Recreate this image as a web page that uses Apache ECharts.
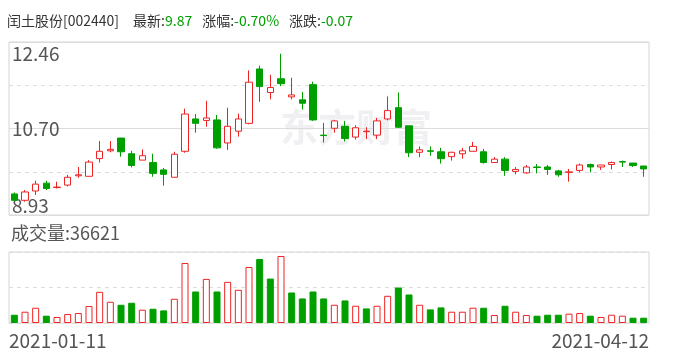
<!DOCTYPE html>
<html><head><meta charset="utf-8">
<script src="https://cdn.jsdelivr.net/npm/echarts@6/dist/echarts.min.js"></script>
<style>html,body{margin:0;padding:0;background:#fff}#c{width:688px;height:360px}</style>
</head><body><div id="c"></div>
<script>
const dates = [
 '2021-01-11','2021-01-12','2021-01-13','2021-01-14','2021-01-15',
 '2021-01-18','2021-01-19','2021-01-20','2021-01-21','2021-01-22',
 '2021-01-25','2021-01-26','2021-01-27','2021-01-28','2021-01-29',
 '2021-02-01','2021-02-02','2021-02-03','2021-02-04','2021-02-05',
 '2021-02-08','2021-02-09','2021-02-10','2021-02-18','2021-02-19',
 '2021-02-22','2021-02-23','2021-02-24','2021-02-25','2021-02-26',
 '2021-03-01','2021-03-02','2021-03-03','2021-03-04','2021-03-05',
 '2021-03-08','2021-03-09','2021-03-10','2021-03-11','2021-03-12',
 '2021-03-15','2021-03-16','2021-03-17','2021-03-18','2021-03-19',
 '2021-03-22','2021-03-23','2021-03-24','2021-03-25','2021-03-26',
 '2021-03-29','2021-03-30','2021-03-31','2021-04-01','2021-04-02',
 '2021-04-06','2021-04-07','2021-04-08','2021-04-09','2021-04-12'
];
const openP = [9.36,9.23,9.42,9.58,9.49,9.54,9.73,9.72,10.08,10.24,
 10.50,10.18,10.05,10.00,9.85,9.70,10.23,10.89,10.86,10.87,
 10.40,10.64,10.80,11.91,11.43,11.71,11.34,11.28,11.59,10.56,
 10.70,10.74,10.52,10.63,10.56,10.89,11.12,10.75,10.21,10.24,
 10.22,10.12,10.18,10.23,10.22,10.00,10.07,9.82,9.79,9.91,
 9.91,9.83,9.80,9.84,9.96,9.91,9.96,10.02,9.99,9.93];
const closeP = [9.23,9.40,9.56,9.47,9.50,9.70,9.75,10.01,10.23,10.27,
 10.22,9.94,10.14,9.78,9.76,10.17,10.99,10.80,10.91,10.30,
 10.74,10.89,11.64,11.55,11.53,11.61,11.38,11.21,10.87,10.55,
 10.85,10.49,10.71,10.64,10.85,11.06,10.72,10.20,10.26,10.23,
 10.08,10.21,10.24,10.33,10.00,10.07,9.84,9.86,9.91,9.90,
 9.86,9.75,9.81,9.95,9.91,9.95,10.00,10.01,9.94,9.87];
const lowP = [9.23,9.20,9.34,9.44,9.47,9.51,9.69,9.72,10.00,10.21,
 10.12,9.90,10.05,9.71,9.53,9.70,10.20,10.61,10.73,10.28,
 10.26,10.53,10.78,11.24,11.29,11.56,11.29,11.08,10.85,10.41,
 10.61,10.43,10.47,10.48,10.48,10.86,10.71,10.11,10.11,10.14,
 9.98,10.04,10.08,10.23,9.98,10.00,9.73,9.76,9.77,9.78,
 9.75,9.71,9.61,9.80,9.80,9.85,9.86,9.91,9.91,9.71];
const highP = [9.39,9.44,9.63,9.63,9.61,9.75,9.91,10.05,10.44,10.44,
 10.50,10.24,10.27,10.18,9.89,10.22,11.10,10.99,11.26,10.97,
 11.12,11.00,11.88,11.98,11.79,12.22,11.73,11.44,11.65,10.81,
 10.87,10.85,10.76,10.72,10.91,11.35,11.43,10.75,10.33,10.33,
 10.30,10.22,10.30,10.42,10.28,10.11,10.11,9.91,9.95,9.97,
 9.95,9.85,9.87,9.98,9.98,9.95,10.02,10.04,9.99,9.93];
const volume = [57000,77800,105300,50400,41200,61800,68700,116700,215200,146500,
 125900,139600,91600,98400,87000,167100,414300,217500,304400,217500,
 283800,228900,386800,441800,306700,462400,210600,169400,217500,169400,
 125900,155700,119000,100700,119000,187700,244900,196900,125900,93900,
 107600,77800,77800,105300,105300,54900,119000,77800,54900,50400,
 57200,57200,64100,68700,50400,41200,57200,50400,36600,36621];

const priceMin = 8.93, priceMax = 12.46;
const priceTickLabels = ['8.93', '10.70', '12.46'];
const volMax = 490000;
const stockName = '闰土股份[002440]';
const latestPrice = '9.87';
const changePct = '-0.70%';
const changeAmt = '-0.07';
const volLabel = '36621';

const RED = '#ee2424', GREEN = '#009f00', GREY = '#555';
const FONT = '"Microsoft YaHei","Noto Sans CJK SC",sans-serif';
const LBL = 19;

const candleData = openP.map((o, i) => [o, closeP[i], lowP[i], highP[i]]);
const volData = volume.map((v, i) => {
  const up = i === 0 ? closeP[i] >= openP[i] : closeP[i] >= closeP[i - 1];
  return { value: v, itemStyle: up
    ? { color: '#fff', borderColor: RED, borderWidth: 1 }
    : { color: GREEN, borderColor: GREEN, borderWidth: 1 } };
});

const G = { left: 9, right: 39 };
const hdr = { fontSize: 14, fontFamily: FONT, fontWeight: 'normal' };
const chart = echarts.init(document.getElementById('c'));
chart.setOption({
  animation: false,
  backgroundColor: '#fff',
  title: [
    { left: 7, top: 14, padding: 0,
      text: `{n|${stockName}}{l0|最新:}{g|${latestPrice}}{l|涨幅:}{g|${changePct}}{l|涨跌:}{g|${changeAmt}}`,
      textStyle: { fontWeight: 'normal', rich: {
        n: Object.assign({ color: '#333' }, hdr),
        l0: Object.assign({ color: '#333', padding: [0, 0, 0, 14] }, hdr),
        l: Object.assign({ color: '#333', padding: [0, 0, 0, 10] }, hdr),
        g: Object.assign({ color: '#00a000' }, hdr)
      } } },
    { left: 11, top: 224, padding: 0, text: '成交量:' + volLabel,
      textStyle: { color: GREY, fontSize: 18, fontWeight: 'normal', fontFamily: FONT } }
  ],
  graphic: [{ type: 'text', left: 280, top: 108, z: 0, silent: true,
    style: { text: '东方财富', fontSize: 38, fontWeight: 'bold', fontFamily: FONT, fill: 'rgba(200,200,212,0.28)' } }],
  grid: [
    { left: G.left, right: G.right, top: 42, height: 173, show: true, borderColor: '#d4d4d4', borderWidth: 1, backgroundColor: 'transparent' },
    { left: G.left, right: G.right, top: 252, height: 71, show: true, borderColor: '#d4d4d4', borderWidth: 1, backgroundColor: 'transparent' }
  ],
  xAxis: [
    { type: 'category', gridIndex: 0, data: dates, boundaryGap: true, show: false },
    { type: 'category', gridIndex: 1, data: dates, boundaryGap: true, show: false },
    { type: 'value', gridIndex: 1, min: 0, max: 1, interval: 1, position: 'bottom',
      axisLine: { show: false }, axisTick: { show: false }, splitLine: { show: false },
      axisLabel: { show: true, margin: 8, color: GREY, fontSize: LBL, fontFamily: FONT,
        alignMinLabel: 'left', alignMaxLabel: 'right',
        formatter: v => v === 0 ? dates[0] : (v === 1 ? dates[dates.length - 1] : '') } }
  ],
  yAxis: [
    { type: 'value', gridIndex: 0, position: 'left', min: priceMin, max: priceMax, show: false, splitLine: { show: false } },
    { type: 'value', gridIndex: 0, position: 'left', min: 0, max: 4, interval: 1,
      axisLine: { show: false }, axisTick: { show: false },
      splitLine: { show: true, lineStyle: { color: '#dcdcdc', type: [4, 4], width: 1 } },
      axisLabel: { inside: true, margin: 3, color: GREY, fontSize: LBL, fontFamily: FONT, verticalAlign: 'top', padding: [2, 0, 0, 0],
        formatter: v => v === 4 ? priceTickLabels[2] : '' } },
    { type: 'value', gridIndex: 0, position: 'left', min: 0, max: 4, interval: 1,
      axisLine: { show: false }, axisTick: { show: false }, splitLine: { show: false },
      axisLabel: { inside: true, margin: 3, color: GREY, fontSize: LBL, fontFamily: FONT, verticalAlign: 'bottom',
        formatter: v => v === 0 ? priceTickLabels[0] : '' } },
    { type: 'value', gridIndex: 0, position: 'left', min: 0, max: 2, interval: 1,
      axisLine: { show: false }, axisTick: { show: false },
      splitLine: { show: true, lineStyle: { color: '#dcdcdc', type: 'solid', width: 1 } },
      axisLabel: { inside: true, margin: 3, color: GREY, fontSize: LBL, fontFamily: FONT, verticalAlign: 'middle',
        formatter: v => v === 1 ? priceTickLabels[1] : '' } },
    { type: 'value', gridIndex: 1, position: 'left', min: 0, max: volMax, interval: volMax / 2,
      axisLine: { show: false }, axisTick: { show: false }, axisLabel: { show: false },
      splitLine: { show: true, lineStyle: { color: '#dcdcdc', type: [4, 4], width: 1 } } }
  ],
  series: [
    { type: 'candlestick', xAxisIndex: 0, yAxisIndex: 0, data: candleData, barWidth: 7, z: 3,
      itemStyle: { color: '#fff', color0: GREEN, borderColor: RED, borderColor0: GREEN, borderWidth: 1 } },
    { type: 'bar', xAxisIndex: 1, yAxisIndex: 4, data: volData, barWidth: 7, z: 3 }
  ]
});
</script></body></html>
